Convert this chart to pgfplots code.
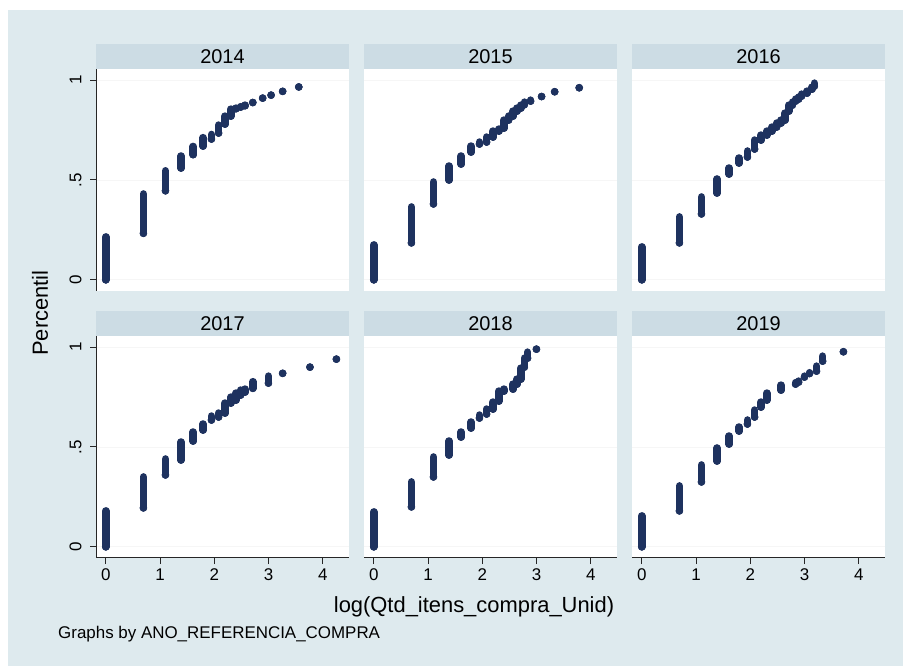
\documentclass[border=0pt]{standalone}
\usepackage{fontspec}
\setmainfont{Liberation Sans}
\usepackage{pgfplots}
\pgfplotsset{compat=1.18}
\usepackage{pgfplotstable}

\definecolor{bgblue}{RGB}{222,234,238}
\definecolor{strip}{RGB}{204,220,228}
\definecolor{dots}{RGB}{30,50,95}

% x = log(qtd), lo/hi = range of percentiles at that x
\pgfplotstableread{
x lo hi
0 0 0.215
0.693 0.233 0.43
1.099 0.446 0.546
1.386 0.56 0.62
1.609 0.627 0.668
1.792 0.67 0.712
1.946 0.705 0.728
2.079 0.735 0.775
2.197 0.78 0.82
2.303 0.82 0.855
2.398 0.857 0.86
2.485 0.865 0.867
2.565 0.872 0.875
2.708 0.888 0.888
2.890 0.91 0.91
3.045 0.925 0.925
3.258 0.944 0.944
3.555 0.966 0.966
}\ya
\pgfplotstableread{
x lo hi
0 0 0.175
0.693 0.185 0.365
1.099 0.38 0.49
1.386 0.50 0.57
1.609 0.58 0.62
1.792 0.64 0.67
1.946 0.68 0.69
2.079 0.69 0.715
2.197 0.715 0.745
2.303 0.745 0.755
2.398 0.76 0.80
2.485 0.80 0.82
2.565 0.82 0.845
2.639 0.845 0.86
2.708 0.86 0.875
2.773 0.877 0.89
2.890 0.895 0.90
3.091 0.918 0.918
3.332 0.942 0.942
3.784 0.962 0.962
}\yb
\pgfplotstableread{
x lo hi
0 0 0.165
0.693 0.185 0.315
1.099 0.33 0.415
1.386 0.435 0.505
1.609 0.53 0.56
1.792 0.585 0.61
1.946 0.615 0.645
2.079 0.655 0.70
2.197 0.70 0.725
2.303 0.725 0.745
2.398 0.745 0.765
2.485 0.765 0.785
2.565 0.785 0.80
2.639 0.80 0.835
2.708 0.845 0.875
2.773 0.875 0.89
2.833 0.895 0.905
2.890 0.905 0.915
2.944 0.92 0.93
3.045 0.935 0.945
3.135 0.955 0.965
3.178 0.97 0.985
}\yc
\pgfplotstableread{
x lo hi
0 0 0.18
0.693 0.195 0.35
1.099 0.36 0.44
1.386 0.435 0.525
1.609 0.53 0.575
1.792 0.585 0.615
1.946 0.635 0.655
2.079 0.65 0.67
2.197 0.67 0.72
2.303 0.72 0.75
2.398 0.735 0.77
2.485 0.76 0.785
2.565 0.775 0.79
2.708 0.794 0.827
2.996 0.82 0.855
3.258 0.869 0.869
3.761 0.90 0.90
4.248 0.94 0.94
}\yd
\pgfplotstableread{
x lo hi
0 0 0.175
0.693 0.20 0.325
1.099 0.35 0.45
1.386 0.46 0.53
1.609 0.55 0.575
1.792 0.595 0.625
1.946 0.645 0.66
2.079 0.665 0.69
2.197 0.69 0.725
2.303 0.73 0.78
2.398 0.78 0.79
2.565 0.79 0.815
2.639 0.815 0.84
2.708 0.84 0.895
2.773 0.90 0.945
2.833 0.945 0.975
2.996 0.99 0.99
}\ye
\pgfplotstableread{
x lo hi
0 0 0.155
0.693 0.18 0.305
1.099 0.325 0.41
1.386 0.43 0.495
1.609 0.515 0.555
1.792 0.58 0.60
1.946 0.615 0.635
2.079 0.65 0.685
2.197 0.70 0.725
2.303 0.735 0.77
2.565 0.785 0.81
2.833 0.815 0.822
2.890 0.825 0.83
2.996 0.85 0.855
3.091 0.868 0.872
3.219 0.88 0.905
3.332 0.93 0.955
3.714 0.977 0.977
}\yf

\pgfplotsset{
  panel/.style={
    scale only axis, width=253bp, height=222bp, anchor=south west,
    xmin=-0.18, xmax=4.48, ymin=-0.056, ymax=1.056,
    axis background/.style={fill=white},
    xtick={0,1,2,3,4}, ytick={0,0.5,1}, yticklabels={0,.5,1},
    ymajorgrids, grid style={color=gray!7, line width=0.7bp},
    axis x line*=bottom, axis y line*=left,
    axis line style={black!85, line width=1bp, -},
    tick align=outside, major tick length=6bp,
    every tick/.style={black!85, line width=1bp},
    ticklabel style={font=\fontsize{17}{20}\selectfont},
    /pgf/number format/assume math mode=true,
    yticklabel style={rotate=90, anchor=south},
    yticklabel shift=5bp, xticklabel shift=1bp,
    every axis title/.style={at={(0.5,1)}, anchor=south, fill=strip,
      minimum width=253bp, minimum height=25bp, inner sep=0pt,
      font=\fontsize{20}{24}\selectfont},
  },
  hidex/.style={xtick=\empty, x axis line style={draw=none}},
  hidey/.style={yticklabels={}, ytick style={draw=none},
    y axis line style={draw=none}},
  pts/.style={only marks, mark=*, mark size=3.6bp, color=dots,
    error bars/.cd, y dir=plus, y explicit, error mark=none,
    error bar style={line width=7.6bp, line cap=round, color=dots}},
}

\begin{document}
\begin{tikzpicture}
\useasboundingbox (0bp,0bp) rectangle (903bp,666bp);
\fill[white] (0bp,0bp) rectangle (903bp,666bp);
\fill[bgblue] (8bp,0bp) rectangle (903bp,656bp);

\begin{axis}[panel, hidex, at={(96bp,375bp)}, title={2014}]
\addplot[pts] table[x=x, y=lo, y error expr=\thisrow{hi}-\thisrow{lo}] {\ya};
\end{axis}
\begin{axis}[panel, hidex, hidey, at={(364bp,375bp)}, title={2015}]
\addplot[pts] table[x=x, y=lo, y error expr=\thisrow{hi}-\thisrow{lo}] {\yb};
\end{axis}
\begin{axis}[panel, hidex, hidey, at={(632bp,375bp)}, title={2016}]
\addplot[pts] table[x=x, y=lo, y error expr=\thisrow{hi}-\thisrow{lo}] {\yc};
\end{axis}
\begin{axis}[panel, at={(96bp,108bp)}, title={2017}]
\addplot[pts] table[x=x, y=lo, y error expr=\thisrow{hi}-\thisrow{lo}] {\yd};
\end{axis}
\begin{axis}[panel, hidey, at={(364bp,108bp)}, title={2018}]
\addplot[pts] table[x=x, y=lo, y error expr=\thisrow{hi}-\thisrow{lo}] {\ye};
\end{axis}
\begin{axis}[panel, hidey, at={(632bp,108bp)}, title={2019}]
\addplot[pts] table[x=x, y=lo, y error expr=\thisrow{hi}-\thisrow{lo}] {\yf};
\end{axis}

\node[rotate=90, font=\fontsize{22}{26}\selectfont] at (40bp,353bp) {Percentil};
\node[font=\fontsize{22}{26}\selectfont] at (474bp,59bp) {log(Qtd\_itens\_compra\_Unid)};
\node[anchor=west, font=\fontsize{17}{20}\selectfont, inner sep=0pt] at (58bp,32bp) {Graphs by ANO\_REFERENCIA\_COMPRA};
\end{tikzpicture}
\end{document}
